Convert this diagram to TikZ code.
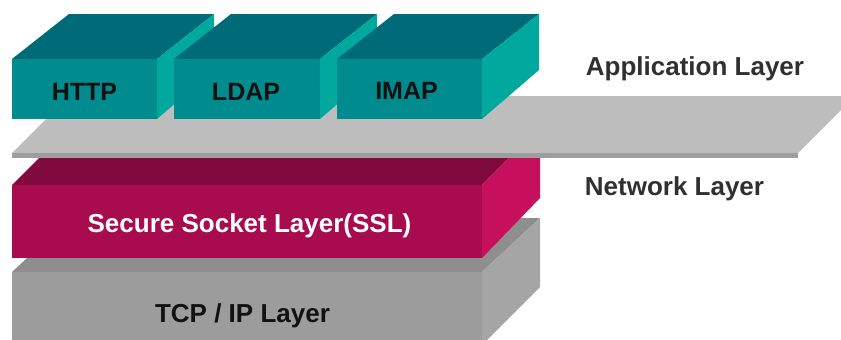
\documentclass[tikz,border=0pt]{standalone}
\usepackage{fontspec}
\setmainfont{Liberation Sans}
\definecolor{tealTop}{HTML}{006B78}
\definecolor{tealFront}{HTML}{008B8F}
\definecolor{tealSide}{HTML}{00A89E}
\definecolor{sslTop}{HTML}{800A3E}
\definecolor{sslFront}{HTML}{A80C4E}
\definecolor{sslSide}{HTML}{C6105E}
\definecolor{plateTop}{HTML}{BDBDBD}
\definecolor{plateEdge}{HTML}{9E9E9E}
\definecolor{tcpTop}{HTML}{8E8E8E}
\definecolor{tcpFront}{HTML}{9C9C9C}
\definecolor{tcpSide}{HTML}{A5A5A5}
\definecolor{inkDark}{HTML}{111111}
\definecolor{inkGray}{HTML}{303030}
\begin{document}
\begin{tikzpicture}[x=1pt,y=-1pt,
  lbl/.style={font=\fontsize{25}{30}\selectfont\bfseries, inner sep=0pt, anchor=base},
  wide/.style={lbl, font=\fontsize{26}{31}\selectfont\bfseries}]
\useasboundingbox (0,0) rectangle (841,340);
\clip (0,0) rectangle (841,340);

% TCP / IP layer block
\fill[tcpTop]   (12,272) -- (482,272) -- (540,218) -- (70,218) -- cycle;
\fill[tcpFront] (12,272) rectangle (482,350);
\fill[tcpSide]  (482,272) -- (540,218) -- (540,287) -- (482,345) -- cycle;

% SSL block
\fill[sslTop]   (12,185) -- (482,185) -- (540,127) -- (70,127) -- cycle;
\fill[sslFront] (12,185) rectangle (482,258);
\fill[sslSide]  (482,185) -- (540,127) -- (540,198) -- (482,258) -- cycle;

% separating plate
\fill[plateTop]  (12,153) -- (798,153) -- (855,96) -- (69,96) -- cycle;
\fill[plateEdge] (12,153) rectangle (798,158);

% application blocks
\foreach \xa/\xb in {12/157, 174/320, 337/482}{
  \fill[tealTop]   (\xa,59) -- (\xb,59) -- (\xb+57,14) -- (\xa+57,14) -- cycle;
  \fill[tealFront] (\xa,59) rectangle (\xb,119);
  \fill[tealSide]  (\xb,59) -- (\xb+57,14) -- (\xb+57,70) -- (\xb,119) -- cycle;
}

% labels
\node[lbl, text=inkDark] (http) at (84.5,100) {HTTP};
\node[lbl, text=inkDark] (ldap) at (246,100) {LDAP};
\node[lbl, text=inkDark] (imap) at (406.5,99) {IMAP};
\node[wide, text=inkGray] (app)  at (695,75) {Application Layer};
\node[wide, text=inkGray] (net)  at (674.5,195) {Network Layer};
\node[wide, text=white]   (ssl)  at (249.5,232) {Secure Socket Layer(SSL)};
\node[wide, text=inkDark] (tcp)  at (242.5,322) {TCP / IP Layer};
\end{tikzpicture}
\end{document}
